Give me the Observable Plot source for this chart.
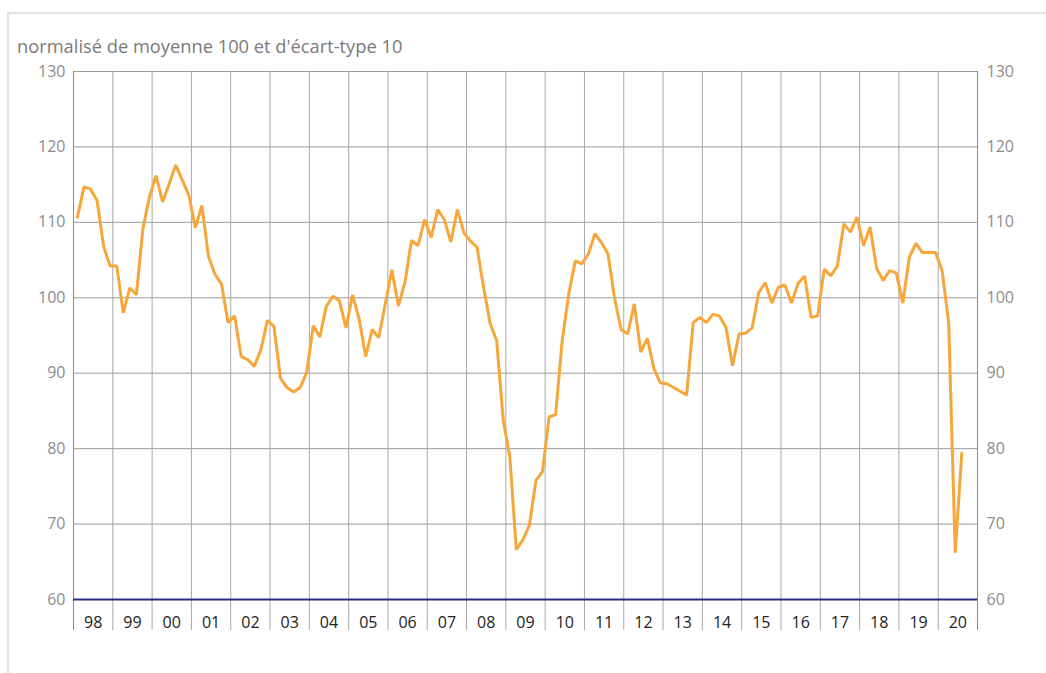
<!DOCTYPE html>
<html>
<head>
<meta charset="utf-8">
<script src="https://cdn.jsdelivr.net/npm/d3@7"></script>
<script src="https://cdn.jsdelivr.net/npm/@observablehq/plot@0.6"></script>
<style>
  html, body { margin: 0; padding: 0; background: #fff; }
  #wrap { position: relative; width: 1046px; height: 673px; overflow: hidden; font-family: "Open Sans", sans-serif; }
  #frame { position: absolute; left: 7px; top: 12px; width: 1100px; height: 700px; border-left: 2px solid #e2e2e2; border-top: 2px solid #e2e2e2; }
  #sub { position: absolute; left: 17px; top: 33px; font-size: 18.3px; color: #7a7a7a; white-space: nowrap; }
  #chart { position: absolute; left: 0; top: 0; }
</style>
</head>
<body>
<div id="wrap">
  <div id="frame"></div>
  <div id="chart"></div>
  <div id="sub">normalisé de moyenne 100 et d'écart-type 10</div>
</div>
<script>
// Années et étiquettes
const annees = [1998,1999,2000,2001,2002,2003,2004,2005,2006,2007,2008,2009,2010,2011,2012,2013,2014,2015,2016,2017,2018,2019,2020];
const etiquettes = ["98","99","00","01","02","03","04","05","06","07","08","09","10","11","12","13","14","15","16","17","18","19","20"];
const pointsParAn = 6;
const graduationsY = [60,70,80,90,100,110,120,130];

// Valeurs (bimestrielles), une ligne par année
const valeurs = [
  110.7,114.7,114.4,112.9,106.8,104.2, // 98
  104.2, 98.0,101.3,100.4,109.2,113.4, // 99
  116.2,112.7,115.1,117.6,115.6,113.6, // 00
  109.3,112.2,105.5,103.1,101.8, 96.7, // 01
   97.6, 92.2, 91.8, 90.9, 93.1, 97.0, // 02
   96.2, 89.3, 88.1, 87.5, 88.1, 90.1, // 03
   96.3, 94.8, 98.9,100.2, 99.6, 96.0, // 04
  100.4, 97.2, 92.2, 95.8, 94.7, 99.2, // 05
  103.7, 98.9,102.1,107.6,106.9,110.4, // 06
  108.0,111.7,110.4,107.4,111.7,108.6, // 07
  107.5,106.7,101.4, 96.6, 94.3, 83.8, // 08
   79.0, 66.6, 67.9, 69.9, 75.8, 77.0, // 09
   84.2, 84.5, 94.3,100.5,104.9,104.5, // 10
  105.8,108.5,107.3,105.8, 99.9, 95.8, // 11
   95.2, 99.2, 92.8, 94.6, 90.6, 88.7, // 12
   88.6, 88.1, 87.6, 87.1, 96.7, 97.4, // 13
   96.7, 97.8, 97.6, 96.1, 91.0, 95.2, // 14
   95.3, 96.0,100.7,102.0, 99.3,101.4, // 15
  101.7, 99.3,101.9,102.9, 97.4, 97.6, // 16
  103.8,102.9,104.2,109.8,108.7,110.7, // 17
  106.9,109.4,103.9,102.3,103.6,103.3, // 18
   99.3,105.4,107.2,106.0,106.0,106.0, // 19
  103.6, 96.7, 66.2, 79.4              // 20
];

const donnees = valeurs.map((v, i) => ({
  t: annees[0] + Math.floor(i / pointsParAn) + ((i % pointsParAn) + 0.6) / pointsParAn,
  v
}));
const bornes = [...annees, annees[annees.length - 1] + 1];
const centres = annees.map((a, i) => ({ x: a + 0.5, label: etiquettes[i] }));

const chart = Plot.plot({
  width: 1046,
  height: 673,
  marginTop: 71,
  marginBottom: 74,
  marginLeft: 73,
  marginRight: 69,
  x: { domain: [annees[0], annees[annees.length - 1] + 1], axis: null },
  y: { domain: [60, 130], axis: null },
  style: { fontFamily: "'Open Sans', sans-serif", background: "transparent" },
  marks: [
    Plot.ruleY(graduationsY.filter(d => d > 60), { stroke: "#9c9c9c", strokeWidth: 1 }),
    Plot.ruleX(bornes, { stroke: "#a8a8a8", strokeWidth: 1, insetBottom: -31 }),
    Plot.ruleX([bornes[0], bornes[bornes.length - 1]], { stroke: "#8a8a8a", strokeWidth: 1, insetBottom: -31 }),
    Plot.ruleY([60], { stroke: "#2b2d7e", strokeWidth: 2 }),
    Plot.line(donnees, { x: "t", y: "v", stroke: "#f7a739", strokeWidth: 3, strokeLinejoin: "miter" }),
    Plot.axisY({ anchor: "left", ticks: graduationsY, tickSize: 0, tickPadding: 8, fontSize: 16, color: "#8c8c8c", label: null }),
    Plot.axisY({ anchor: "right", ticks: graduationsY, tickSize: 0, tickPadding: 9, fontSize: 16, color: "#8c8c8c", label: null }),
    Plot.text(centres, { x: "x", frameAnchor: "bottom", dy: 23, text: "label", fontSize: 16, fill: "#222", lineAnchor: "middle" })
  ]
});
document.getElementById("chart").appendChild(chart);
</script>
</body>
</html>
